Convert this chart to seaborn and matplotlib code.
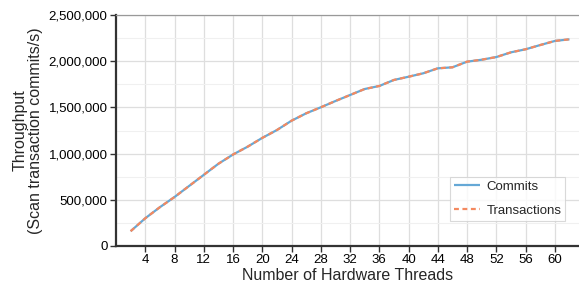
import numpy as np
import pandas as pd
import matplotlib
matplotlib.use("Agg")
import matplotlib.pyplot as plt
from matplotlib.ticker import FuncFormatter, MultipleLocator
import seaborn as sns

# values
threads = [2, 4, 6, 8, 10, 12, 14, 16, 18, 20, 22, 24, 26, 28, 30, 32,
           34, 36, 38, 40, 42, 44, 46, 48, 50, 52, 54, 56, 58, 60, 62]
commits = [160000, 300000, 420000, 530000, 650000, 770000, 890000, 990000,
           1075000, 1170000, 1255000, 1356000, 1436000, 1501000, 1569000,
           1634000, 1699000, 1732000, 1797000, 1832000, 1869000, 1923000,
           1934000, 1995000, 2016000, 2045000, 2096000, 2129000, 2175000,
           2219000, 2237000]
transactions = list(commits)

series_names = ["Commits", "Transactions"]
line_colors = ["#65a8d6", "#f4895f"]

df = pd.DataFrame({
    "threads": threads * 2,
    "throughput": commits + transactions,
    "series": [series_names[0]] * len(threads) + [series_names[1]] * len(threads),
})

sns.set_style("white")
plt.rcParams["font.family"] = ["Liberation Sans", "DejaVu Sans"]

fig = plt.figure(figsize=(5.79, 2.85), dpi=100)
ax = fig.add_axes([116 / 579, 1 - 246 / 285, 1 - 116 / 579, 231 / 285])

sns.lineplot(data=df, x="threads", y="throughput", hue="series", style="series",
             palette=line_colors, dashes=[(1, 0), (2.2, 1.6)], linewidth=1.6,
             ax=ax)

ax.set_xlim(0, 63.3)
ax.set_ylim(0, 2500000)
ax.xaxis.set_major_locator(MultipleLocator(4))
ax.set_xticks(range(4, 61, 4))
ax.yaxis.set_major_locator(MultipleLocator(500000))
ax.yaxis.set_minor_locator(MultipleLocator(250000))
ax.yaxis.set_major_formatter(FuncFormatter(lambda v, p: f"{int(v):,}"))

ax.grid(True, which="major", color="#dedede", linewidth=0.9)
ax.grid(True, which="minor", axis="y", color="#f0f0f0", linewidth=0.8)
ax.set_axisbelow(True)

for side in ["left", "bottom"]:
    ax.spines[side].set_color("#333333")
    ax.spines[side].set_linewidth(1.6)
ax.spines["top"].set_color("#999999")
ax.spines["top"].set_linewidth(0.9)
ax.spines["right"].set_visible(False)

ax.tick_params(axis="both", which="major", direction="out", length=4,
               width=1.0, color="#333333", labelsize=9.5, labelcolor="black",
               bottom=True, left=True, pad=2)
ax.tick_params(axis="y", which="minor", length=0)

ax.set_xlabel("Number of Hardware Threads", fontsize=11.5, labelpad=1)
ax.set_ylabel("Throughput\n(Scan transaction commits/s)", fontsize=11.5,
              labelpad=4, linespacing=1.0)

leg = ax.legend(title=None, loc="lower right", bbox_to_anchor=(0.985, 0.08),
                frameon=True, fontsize=9.5, handlelength=2.0,
                borderpad=0.3, labelspacing=0.9, handletextpad=0.5)
leg.get_frame().set_facecolor("white")
leg.get_frame().set_edgecolor("#d0d0d0")
leg.get_frame().set_linewidth(0.8)
leg.get_frame().set_boxstyle("square", pad=0.0)

fig.savefig("out.png", dpi=100)
